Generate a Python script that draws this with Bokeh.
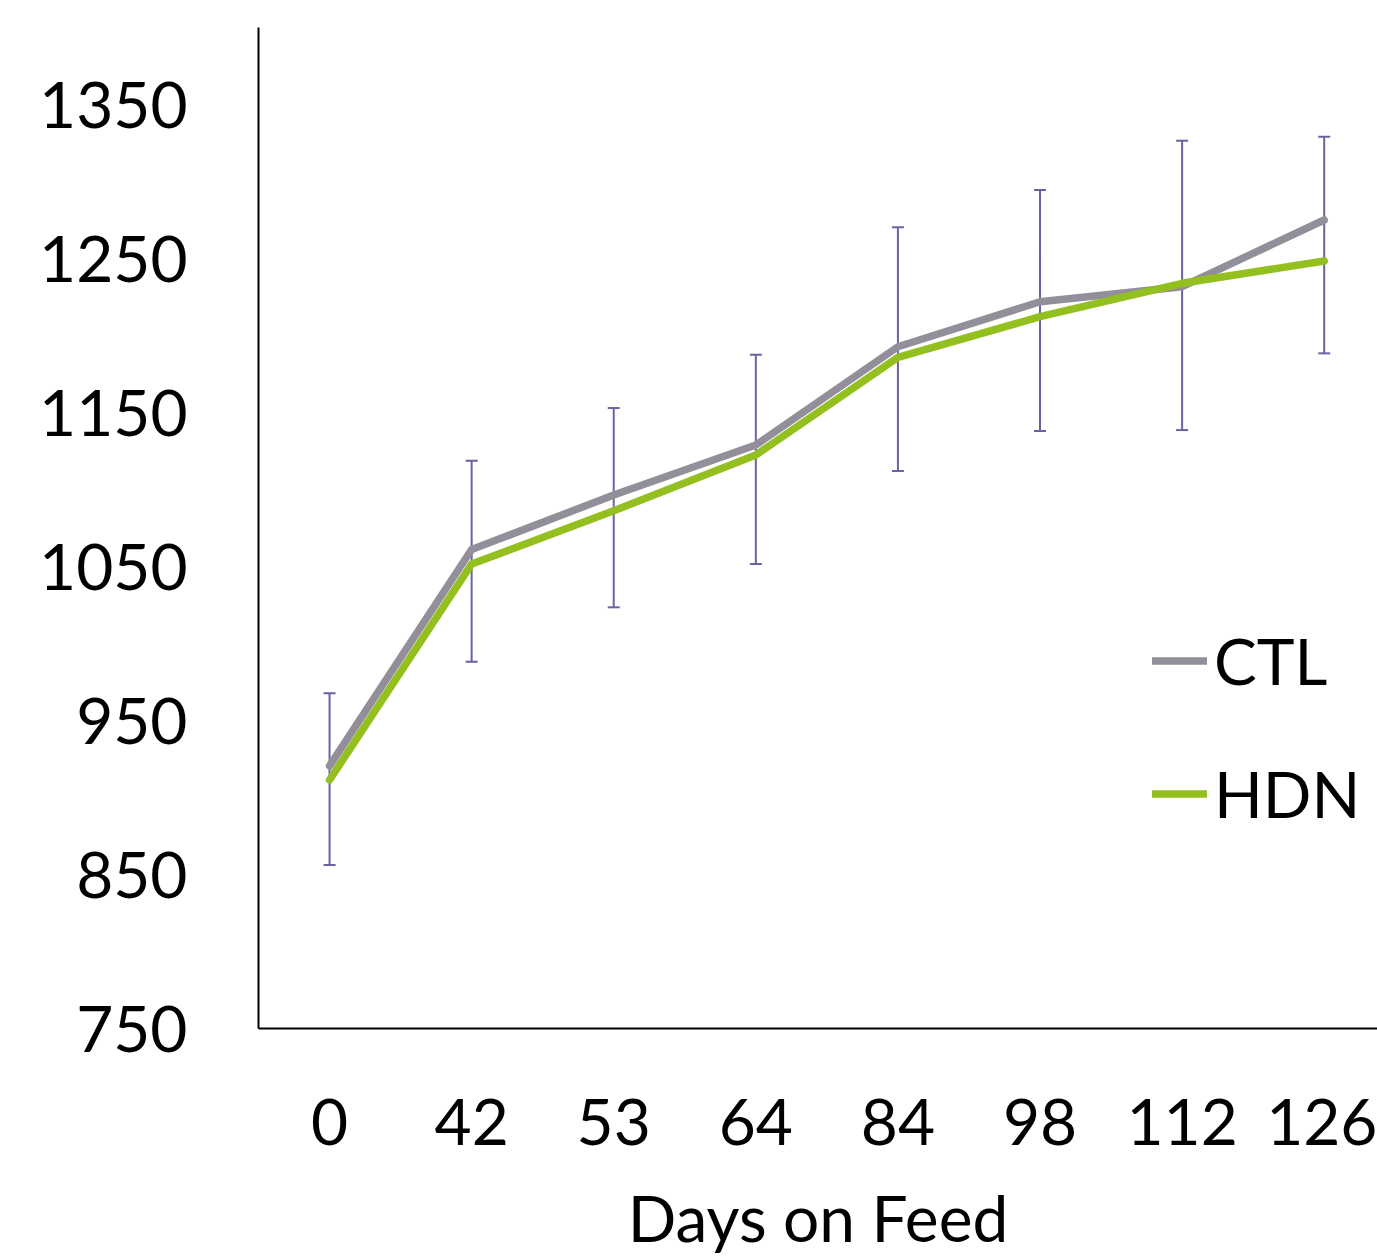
from bokeh.plotting import figure
from bokeh.models import (Range1d, FixedTicker, Whisker, ColumnDataSource, Legend,
                          LegendItem, TeeHead)
from bokeh.embed import file_html
from bokeh.resources import INLINE

# ---- data ----
days = ["0", "42", "53", "64", "84", "98", "112", "126"]
ctl = [920.5, 1061.0, 1096.4, 1128.9, 1192.7, 1221.9, 1231.7, 1275.0]
hdn = [911.4, 1051.6, 1086.2, 1122.4, 1185.8, 1212.2, 1233.9, 1248.4]
err_upper = [967.7, 1118.7, 1152.9, 1187.5, 1270.3, 1294.5, 1326.5, 1329.1]
err_lower = [856.2, 988.2, 1023.5, 1051.6, 1112.0, 1138.0, 1138.6, 1188.4]
y_ticks = [750, 850, 950, 1050, 1150, 1250, 1350]
x_title = "Days on Feed"
series_names = ["CTL", "HDN"]

xs = list(range(len(days)))

FONT = "Lato"
FS = "64px"

p = figure(width=1377, height=1258, output_backend="svg", toolbar_location=None,
           x_range=Range1d(-0.5, 7.375), y_range=Range1d(750, 1400),
           min_border_left=258, min_border_right=0, min_border_top=27,
           min_border_bottom=229)
p.outline_line_color = None
p.background_fill_color = "white"
p.border_fill_color = "white"
p.grid.visible = False

src_err = ColumnDataSource(dict(x=xs, upper=err_upper, lower=err_lower))
ecol = "#6A63A2"
wh = Whisker(base="x", upper="upper", lower="lower", source=src_err,
             line_color=ecol, line_width=2, level="underlay",
             upper_head=TeeHead(size=12, line_color=ecol, line_width=2),
             lower_head=TeeHead(size=12, line_color=ecol, line_width=2))
p.add_layout(wh)

r_ctl = p.line(xs, ctl, line_color="#938F9A", line_width=7.5, line_cap="round", line_join="round")
r_hdn = p.line(xs, hdn, line_color="#93C01F", line_width=7.5, line_cap="round", line_join="round")

# axes
p.xaxis.ticker = FixedTicker(ticks=xs)
p.xaxis.major_label_overrides = {i: d for i, d in zip(xs, days)}
p.yaxis.ticker = FixedTicker(ticks=y_ticks)
for ax in (p.xaxis, p.yaxis):
    ax.major_tick_line_color = None
    ax.minor_tick_line_color = None
    ax.major_tick_out = 0
    ax.major_tick_in = 0
    ax.axis_line_color = "black"
    ax.axis_line_width = 2
    ax.major_label_text_font = FONT
    ax.major_label_text_font_size = FS
    ax.major_label_text_color = "black"
p.yaxis.major_label_standoff = 71
p.xaxis.major_label_standoff = 70
p.xaxis.axis_label = x_title
p.xaxis.axis_label_text_font = FONT
p.xaxis.axis_label_text_font_size = FS
p.xaxis.axis_label_text_font_style = "normal"
p.xaxis.axis_label_text_color = "black"
p.xaxis.axis_label_standoff = 31

legend = Legend(items=[LegendItem(label=series_names[0], renderers=[r_ctl]),
                       LegendItem(label=series_names[1], renderers=[r_hdn])],
                location=(894, 196), orientation="vertical",
                border_line_color=None, background_fill_alpha=0,
                padding=0, margin=0, spacing=56, label_height=77,
                glyph_height=77, glyph_width=55, label_standoff=7,
                label_text_font=FONT, label_text_font_size=FS,
                label_text_color="black")
p.add_layout(legend)

open("out.html", "w").write(file_html(p, INLINE))
